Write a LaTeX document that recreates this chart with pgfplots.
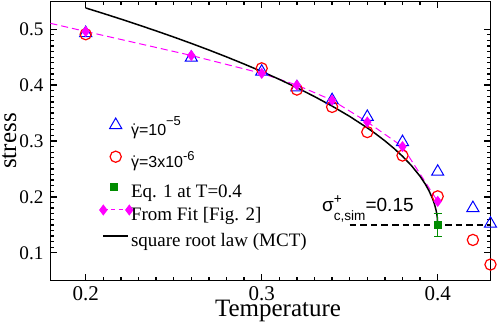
\documentclass[border=0pt]{standalone}
\usepackage{fontspec}
\setmainfont{Liberation Serif}
\newfontfamily\sans{Liberation Sans}
\usepackage{pgfplots}
\pgfplotsset{compat=1.18}
\definecolor{mgreen}{rgb}{0,0.55,0}
\definecolor{mag}{rgb}{1,0,1}
\newcommand\gdot{\leavevmode\setbox0\hbox{γ}\rlap{\hbox to\wd0{\hss ˙\hss}}\box0}
\newcommand\lst{\rule[-7.8pt]{0pt}{20pt}}
\pgfplotsset{
  markimg/.style={legend image code/.code={\path[draw=none,fill=none,use as bounding box] (-2.5pt,-3pt) rectangle (13.85pt,3pt); \draw[##1] plot coordinates {(#1,0pt)};}},
  dimg/.style={legend image code/.code={\path[draw=none,fill=none,use as bounding box] (-2.5pt,-3pt) rectangle (13.85pt,3pt); \draw[##1,mark repeat=2,mark phase=1] plot coordinates {(0pt,0pt) (6.5pt,0pt) (13pt,0pt)};}},
  limg/.style={legend image code/.code={\path[draw=none,fill=none,use as bounding box] (-2.5pt,-3pt) rectangle (13.85pt,3pt); \draw[##1] (0pt,0pt) -- (12.5pt,0pt);}},
  frame/.style={at={(0pt,0pt)}, anchor=south west, scale only axis, width=220pt, height=139.75pt,
    xmin=0.18, xmax=0.43, ymin=0.05, ymax=0.55},
  legax/.style={frame, hide axis, legend cell align=left,
    legend style={draw=none, fill=none, inner sep=0pt, outer sep=0pt, at={(axis cs:0.20716,#1)}, anchor=west,
      font=\fontsize{9.5}{11}\selectfont, column sep=0pt, nodes={inner sep=0pt}}},
}
\begin{document}
\begin{tikzpicture}
\useasboundingbox (-25.25pt,-23.125pt) rectangle (223.75pt,140.375pt);
\begin{axis}[
  frame,
  clip=false,
  xtick pos=both, ytick pos=both, tick align=inside,
  xtick={0.2,0.3,0.4}, xticklabels={0.2,0.3,0.4},
  ytick={0.1,0.2,0.3,0.4,0.5}, yticklabels={0.1,0.2,0.3,0.4,0.5},
  minor x tick num=9, minor y tick num=9,
  major tick length=3.2pt, minor tick length=1.8pt,
  tick style={black, line width=0.65pt},
  axis line style={line width=0.7pt},
  xticklabel style={font=\fontsize{10.5}{12}\selectfont, yshift=0.5pt},
  yticklabel style={font=\fontsize{9.6}{11}\selectfont},
  xlabel={Temperature}, ylabel={stress},
  every axis x label/.style={at={(axis description cs:0.517,0)}, anchor=base, yshift=-18pt, font=\fontsize{12.5}{15}\selectfont},
  every axis y label/.style={at={(axis description cs:0,0.5)}, xshift=-17.2pt, rotate=90, anchor=base, font=\fontsize{12.5}{15}\selectfont},
]
\addplot[only marks, mark=triangle, mark size=3.5pt, blue, mark options={line width=0.5pt}]
  coordinates {(0.20,0.493) (0.26,0.449) (0.30,0.424) (0.32,0.396) (0.34,0.373) (0.36,0.343) (0.38,0.298) (0.40,0.245) (0.42,0.180) (0.43,0.152)};
\addplot[only marks, mark=o, mark size=2.8pt, red, mark options={line width=0.6pt}]
  coordinates {(0.20,0.491) (0.30,0.430) (0.32,0.392) (0.34,0.361) (0.36,0.316) (0.38,0.274) (0.40,0.201) (0.42,0.123) (0.43,0.079)};
\addplot[mag, dash pattern=on 3.5pt off 2pt, line width=0.5pt]
  coordinates {(0.18,0.5105) (0.20,0.496)};
\addplot[mag, dash pattern=on 3.5pt off 2pt, line width=0.5pt, mark=diamond*, mark size=2.4pt, mark options={solid}]
  coordinates {(0.20,0.496) (0.26,0.453) (0.30,0.421) (0.32,0.400) (0.34,0.373) (0.36,0.334) (0.38,0.290) (0.40,0.192)};
\addplot[black, line width=0.75pt]
  coordinates {(0.200,0.5380) (0.210,0.5282) (0.220,0.5181) (0.230,0.5077) (0.240,0.4970) (0.250,0.4860) (0.260,0.4746) (0.270,0.4628) (0.280,0.4505) (0.290,0.4377) (0.300,0.4244) (0.310,0.4103) (0.320,0.3954) (0.330,0.3795) (0.340,0.3625) (0.350,0.3440) (0.360,0.3235) (0.365,0.3123) (0.370,0.3003) (0.375,0.2872) (0.380,0.2727) (0.385,0.2563) (0.390,0.2368) (0.393,0.2226) (0.395,0.2113) (0.397,0.1975) (0.398,0.1888) (0.399,0.1774) (0.3995,0.1694) (0.3998,0.1623) (0.400,0.1500)};
\addplot[black, line width=0.7pt, dash pattern=on 3.3pt off 2pt]
  coordinates {(0.35,0.15) (0.43,0.15)};
\addplot[only marks, mark=square*, mark size=1.7pt, color=mgreen,
  error bars/.cd, y dir=both, y explicit, error bar style={line width=0.5pt, mgreen},
  error mark options={rotate=90, mark size=2pt, line width=0.5pt, mgreen}]
  coordinates {(0.4,0.15) +- (0,0.02)};
\node[anchor=base west, inner sep=0pt, font=\sans\fontsize{9.5}{11}\selectfont] at (axis cs:0.3341,0.1735)
  {σ\rlap{\raisebox{4.1pt}{\fontsize{6.8}{8}\selectfont +}}\raisebox{-4.2pt}{\fontsize{6.8}{8}\selectfont c,sim}=0.15};
\end{axis}
\begin{axis}[legax=0.3286]
\addlegendimage{only marks, mark=triangle, mark size=3.5pt, blue, mark options={line width=0.5pt}, markimg=6.2pt}
\addlegendentry{\lst{\sans\fontsize{8}{9.6}\selectfont\gdot=10\raisebox{5pt}{\fontsize{6.5}{7}\selectfont −5}}}
\end{axis}
\begin{axis}[legax=0.2719]
\addlegendimage{only marks, mark=o, mark size=2.8pt, red, mark options={line width=0.6pt}, markimg=6.2pt}
\addlegendentry{\lst{\sans\fontsize{8}{9.6}\selectfont\gdot=3x10\raisebox{3.7pt}{\fontsize{6.5}{7}\selectfont -6}}}
\end{axis}
\begin{axis}[legax=0.2182]
\addlegendimage{only marks, mark=square*, mark size=1.7pt, color=mgreen, markimg=5.4pt}
\addlegendentry{\lst Eq. 1 at T=0.4}
\end{axis}
\begin{axis}[legax=0.1766]
\addlegendimage{mag, dash pattern=on 2.2pt off 1.6pt, line width=0.5pt, mark=diamond*, mark size=2.4pt, mark options={solid}, dimg}
\addlegendentry{\lst From Fit [Fig. 2]}
\end{axis}
\begin{axis}[legax=0.1300]
\addlegendimage{black, line width=0.75pt, limg}
\addlegendentry{\lst square root law (MCT)}
\end{axis}
\end{tikzpicture}
\end{document}
